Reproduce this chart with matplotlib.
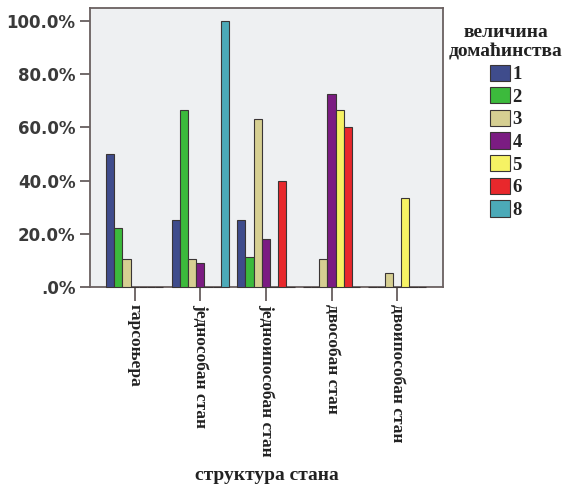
import numpy as np
import matplotlib.pyplot as plt

categories = ['гарсоњера', 'једнособан стан', 'једноипособан стан', 'двособан стан', 'двоипособан стан']
series_names = ['1', '2', '3', '4', '5', '6', '8']
values = [
    [50.0, 25.0, 25.0, 0.0, 0.0],     # 1
    [22.2, 66.7, 11.1, 0.0, 0.0],     # 2
    [10.5, 10.5, 63.2, 10.5, 5.3],    # 3
    [0.0, 9.1, 18.2, 72.7, 0.0],      # 4
    [0.0, 0.0, 0.0, 66.7, 33.3],      # 5
    [0.0, 0.0, 40.0, 60.0, 0.0],      # 6
    [0.0, 100.0, 0.0, 0.0, 0.0],      # 8
]
yticks = [0, 20, 40, 60, 80, 100]
ytick_labels = ['.0%', '20.0%', '40.0%', '60.0%', '80.0%', '100.0%']
colors = ['#3f4c8c', '#3cba3c', '#d6cf92', '#7b1c82', '#f6f264', '#e8282c', '#4caab8']

serif = 'Liberation Serif'
edge = '#3a3535'

fig = plt.figure(figsize=(5.63, 4.93), dpi=100)
ax = fig.add_axes([0.160, 0.418, 0.627, 0.566])
ax.set_facecolor('#eef0f2')

x = np.arange(len(categories))
w = 0.125
for i, (name, vals) in enumerate(zip(series_names, values)):
    ax.bar(x + (i - 3) * w, vals, width=w, color=colors[i], edgecolor=edge,
           linewidth=0.8, label=name, clip_on=False, zorder=3)

ax.set_xlim(-0.68, 4.7)
ax.set_ylim(0, 105)
ax.set_yticks(yticks)
ax.set_yticklabels(ytick_labels, fontsize=12, fontweight='bold', color='#3a3a3a')
ax.set_xticks(x)
ax.set_xticklabels(categories, rotation=270, fontsize=12.5, family=serif,
                   fontweight='bold', color='#222222')
ax.tick_params(axis='y', length=7, width=1.2, color='#5a5050')
ax.tick_params(axis='x', length=10, width=1.2, color='#5a5050', pad=2)
for s in ax.spines.values():
    s.set_color('#6a6060')
    s.set_linewidth(1.3)

ax.set_xlabel('структура стана', fontsize=14, family=serif, fontweight='bold',
              color='#222222', labelpad=8)

leg = ax.legend(loc='upper center', bbox_to_anchor=(1.178, 0.99), frameon=False,
                title='величина\nдомаћинства', handlelength=1.05, handleheight=0.95,
                handletextpad=0.15, labelspacing=0.22, borderpad=0.2,
                prop={'family': serif, 'size': 13.5, 'weight': 'bold'},
                title_fontproperties={'family': serif, 'size': 14, 'weight': 'bold'})
leg.get_title().set_multialignment('center')
leg.get_title().set_color('#222222')
for t in leg.get_texts():
    t.set_color('#222222')

plt.savefig('out.png', dpi=100)
